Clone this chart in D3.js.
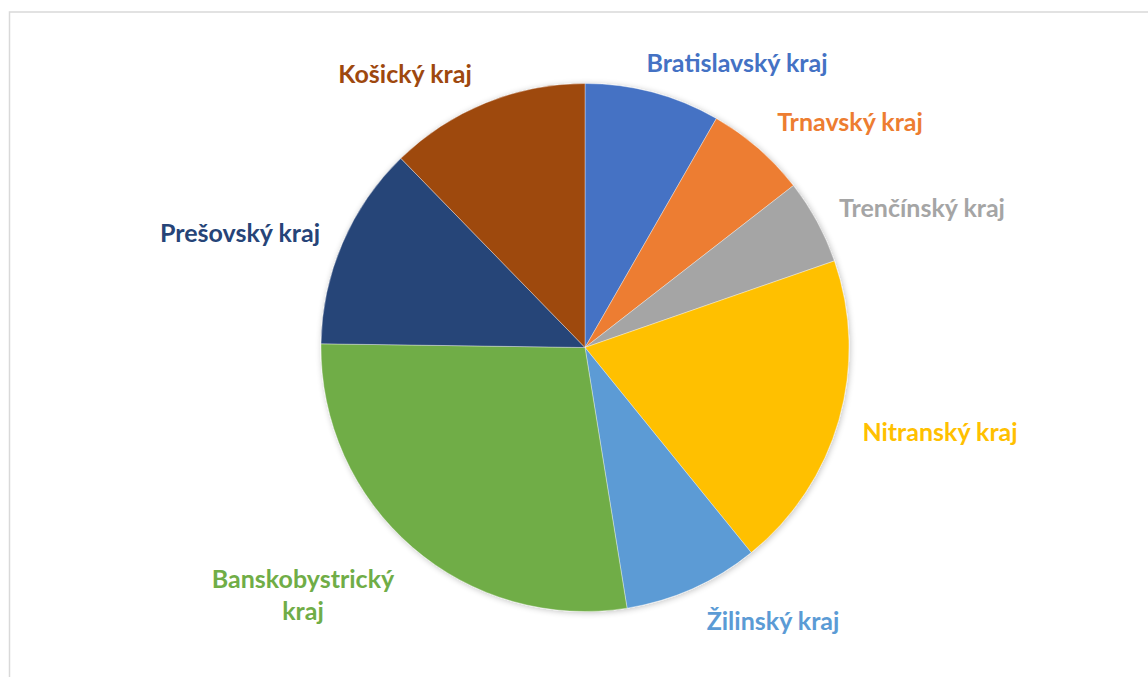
<!DOCTYPE html>
<html>
<head>
<meta charset="utf-8">
<script src="https://cdn.jsdelivr.net/npm/d3@7"></script>
<style>
  html, body { margin: 0; padding: 0; background: #fff; }
  svg { display: block; }
</style>
</head>
<body>
<svg id="chart" width="1148" height="677"></svg>
<script>
const categories = ["Bratislavský kraj", "Trnavský kraj", "Trenčínský kraj", "Nitranský kraj",
                    "Žilinský kraj", "Banskobystrický kraj", "Prešovský kraj", "Košický kraj"];
const values = [8.3, 6.2, 5.2, 19.5, 8.3, 27.8, 12.5, 12.3];
const colors = ["#4472C4", "#ED7D31", "#A5A5A5", "#FFC000", "#5B9BD5", "#70AD47", "#264478", "#9E480E"];
// label layout: line breaks and centre positions
const labelLines = [["Bratislavský kraj"], ["Trnavský kraj"], ["Trenčínský kraj"], ["Nitranský kraj"],
                    ["Žilinský kraj"], ["Banskobystrický", "kraj"], ["Prešovský kraj"], ["Košický kraj"]];
const labelPos = [[737, 62], [850, 121], [922, 207], [940, 431], [773, 620], [303, 578], [240, 232], [405, 73]];

const svg = d3.select("#chart");
const cx = 585, cy = 347.5, r = 264;

// chart border (only top and left visible)
svg.append("rect").attr("x", 9.5).attr("y", 12).attr("width", 1200).attr("height", 700)
  .attr("fill", "none").attr("stroke", "#d9d9d9").attr("stroke-width", 1.5);

const defs = svg.append("defs");
const f = defs.append("filter").attr("id", "sh").attr("x", "-10%").attr("y", "-10%").attr("width", "120%").attr("height", "120%");
f.append("feGaussianBlur").attr("in", "SourceAlpha").attr("stdDeviation", 3).attr("result", "b");
f.append("feOffset").attr("in", "b").attr("dx", 1).attr("dy", 1).attr("result", "o");
f.append("feComponentTransfer").attr("in", "o").attr("result", "o2")
  .append("feFuncA").attr("type", "linear").attr("slope", 0.25);
const m = f.append("feMerge");
m.append("feMergeNode").attr("in", "o2");
m.append("feMergeNode").attr("in", "SourceGraphic");

const pie = d3.pie().sort(null).value(d => d)(values);
const arc = d3.arc().innerRadius(0).outerRadius(r);

const g = svg.append("g").attr("transform", `translate(${cx},${cy})`).attr("filter", "url(#sh)");
g.selectAll("path").data(pie).join("path")
  .attr("d", arc)
  .attr("fill", (d, i) => colors[i])
  .attr("stroke", "#ffffff").attr("stroke-width", 0.6).attr("stroke-opacity", 0.6);

const lbl = svg.append("g").attr("font-family", "Lato, 'Open Sans', sans-serif")
  .attr("font-weight", "bold").attr("font-size", 25);
labelLines.forEach((lines, i) => {
  const t = lbl.append("text").attr("text-anchor", "middle").attr("fill", colors[i])
    .attr("x", labelPos[i][0]).attr("y", labelPos[i][1]).attr("dominant-baseline", "central");
  lines.forEach((ln, j) => {
    t.append("tspan").attr("x", labelPos[i][0]).attr("dy", j === 0 ? 0 : 32).text(ln);
  });
});
</script>
</body>
</html>
